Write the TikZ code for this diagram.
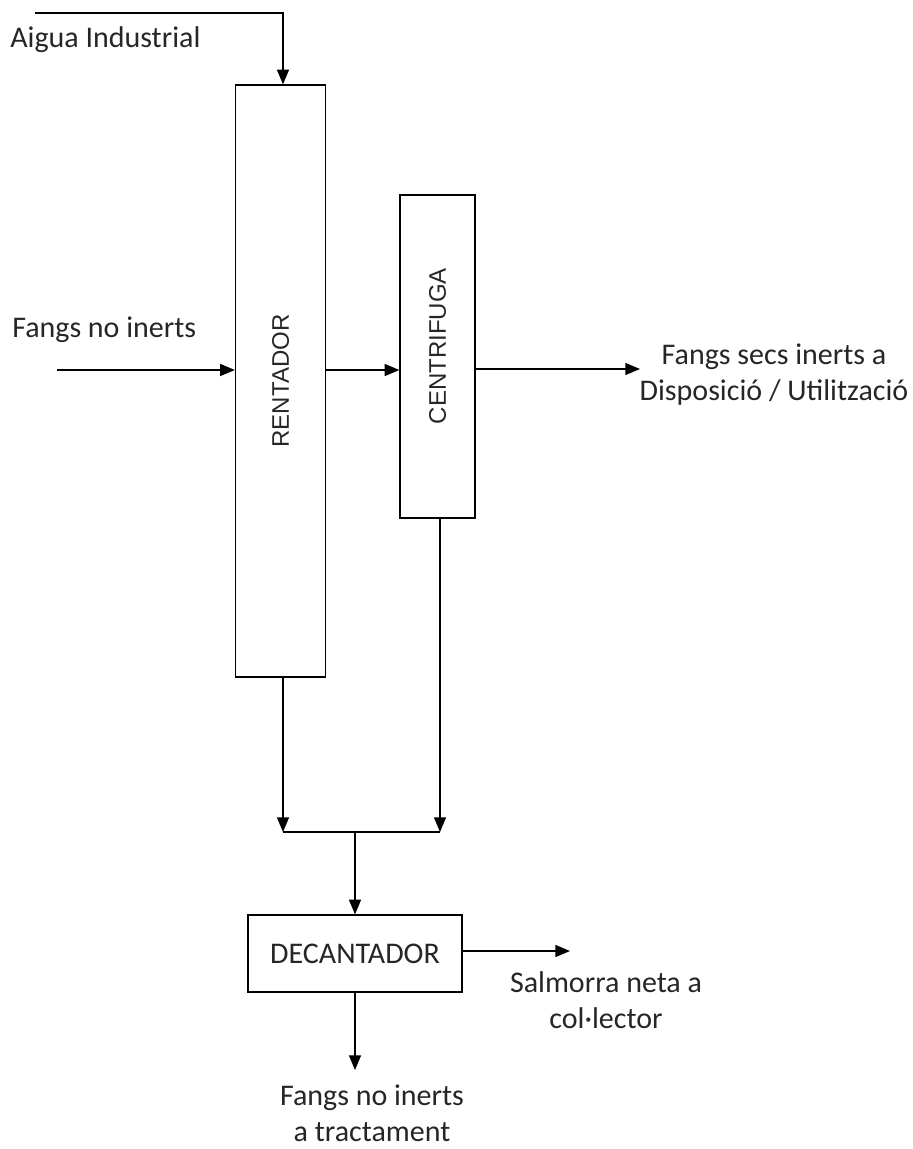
\documentclass[tikz,border=0pt]{standalone}
\usepackage{fontspec}
\setmainfont{Carlito}
\newfontfamily\arialf{Liberation Sans}
\usetikzlibrary{arrows.meta}
\begin{document}
\begin{tikzpicture}[x=0.75pt,y=-0.75pt,
  box/.style={draw, line width=1pt, inner sep=0pt},
  arr/.style={line width=1pt, -{Triangle[length=11pt,width=9pt]}},
  ln/.style={line width=1pt},
  lbl/.style={font=\fontsize{22.5}{27}\selectfont, text=black!85, align=center, inner sep=0pt},
  blbl/.style={font=\arialf\fontsize{18}{21}\selectfont, text=black!85, inner sep=0pt}]
\useasboundingbox (0,0) rectangle (913,1149);
\node[box, minimum width=67.5pt, minimum height=444pt] (rent) at (280.5,381) {};
\node[blbl, rotate=90] (rentl) at (rent.center) {RENTADOR};
\node[box, minimum width=56.25pt, minimum height=242.25pt] (cent) at (437.5,356.5) {};
\node[blbl, rotate=90] (centl) at (437.5,346) {CENTRIFUGA};
\node[box, minimum width=160.5pt, minimum height=57.75pt] (dec) at (355,953.5) {};
\node[lbl] (decl) at (dec.center) {DECANTADOR};
% top water
\coordinate (wstart) at (35,13);
\coordinate (wcorner) at (283,13);
\node[lbl, anchor=west] (aigua) at (10,40) {Aigua Industrial};
\draw[arr] (wstart) -- (wcorner) -- (wcorner |- rent.north);
% input sludge
\coordinate (fin) at (57,370);
\node[lbl, anchor=west] (fangsin) at (12,330) {Fangs no inerts};
\draw[arr] (fin) -- (fin -| rent.west);
\draw[arr] (rent.east |- fin) -- (cent.west |- fin);
% output dry
\coordinate (fout) at (640,369);
\draw[arr] (cent.east |- fout) -- (fout);
\node[lbl] (secs) at (774,375) {Fangs secs inerts a\\Disposició / Utilització};
% bottom flows
\coordinate (j1) at (283,832);
\coordinate (j2) at (440,832);
\coordinate (jm) at (355,832);
\draw[arr] (j1 |- rent.south) -- (j1);
\draw[arr] (j2 |- cent.south) -- (j2);
\draw[ln] (j1) -- (j2);
\draw[arr] (jm) -- (jm |- dec.north);
% decanter outputs
\coordinate (sout) at (570,951);
\draw[arr] (dec.east |- sout) -- (sout);
\node[lbl] (salm) at (606,1000) {Salmorra neta a\\col·lector};
\coordinate (dout) at (355,1070);
\draw[arr] (dec.south -| dout) -- (dout);
\node[lbl] (fnt) at (372,1113) {Fangs no inerts\\a tractament};
\end{tikzpicture}
\end{document}
